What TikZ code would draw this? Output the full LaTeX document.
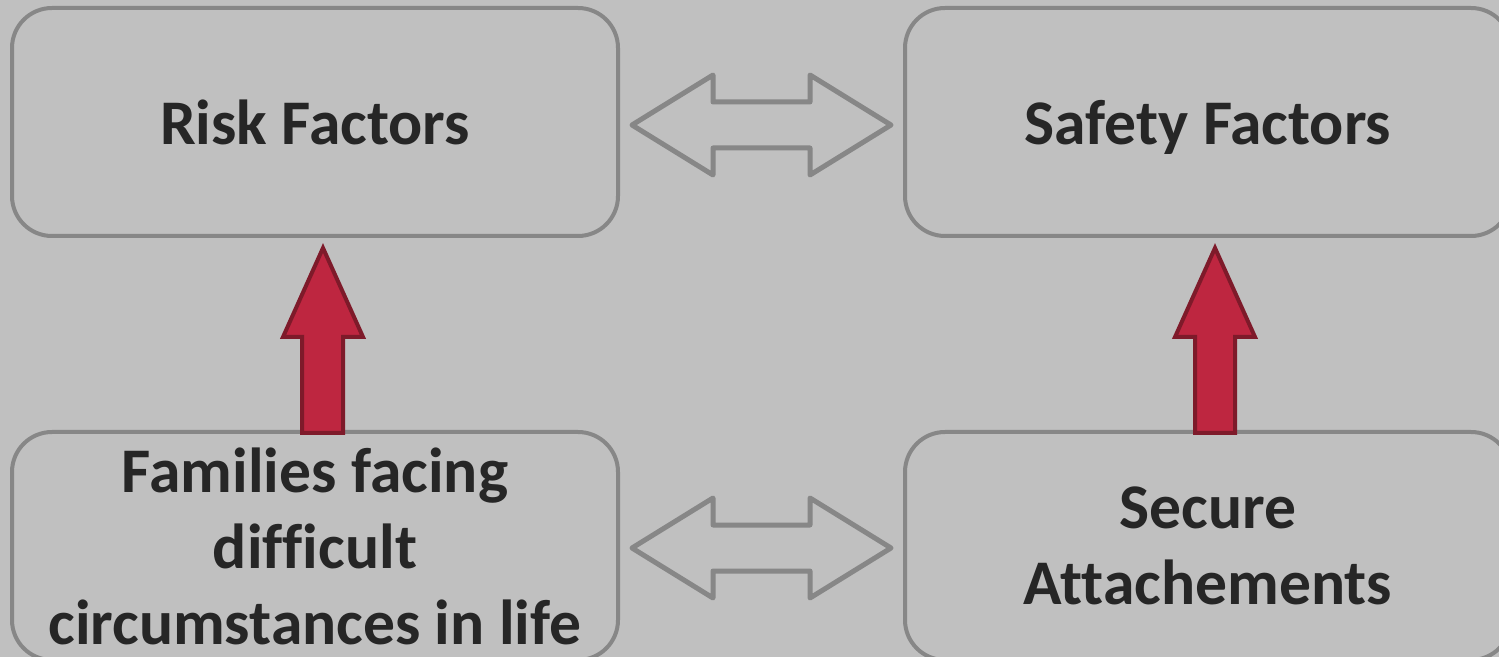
\documentclass[tikz,border=0pt]{standalone}
\usepackage{fontspec}
\setmainfont{Carlito}[Ligatures={NoCommon}]
\definecolor{bg}{HTML}{C0C0C0}
\definecolor{boxline}{HTML}{878787}
\definecolor{txt}{HTML}{262626}
\definecolor{redfill}{HTML}{BE2640}
\definecolor{redline}{HTML}{7E1A2A}
\tikzset{
  factorbox/.style={draw=boxline, line width=2pt, rounded corners=20pt,
    minimum width=303pt, minimum height=114pt, inner sep=0pt, outer sep=0pt,
    align=center, text=txt, font=\bfseries\fontsize{31.8}{38}\selectfont},
  dblarrow/.style={draw=boxline, line width=2.5pt, line join=round},
  redarrow/.style={fill=redfill, draw=redline, line width=2pt, line join=miter}
}
\begin{document}
\begin{tikzpicture}[x=0.5pt, y=-0.5pt]
\fill[bg] (0,0) rectangle (1499,657);
\useasboundingbox (0,0) rectangle (1499,657);
\clip (0,0) rectangle (1499,657);
% boxes
\node[factorbox, text depth=0pt] (risk) at (315,122) {Risk Factors};
\node[factorbox, text depth=0pt] (safety) at (1208,122) {Safety Factors};
\node[factorbox] (families) at (315,546) {Families facing\\difficult\\circumstances in life};
\node[factorbox] (secure) at (1208,546) {Secure\\Attachements};
% double arrows (outline)
\draw[dblarrow] (632,125) -- (713,75) -- (713,102) -- (810,102) -- (810,75) -- (891,125)
  -- (810,175) -- (810,148) -- (713,148) -- (713,175) -- cycle;
\draw[dblarrow] (632,548) -- (713,498) -- (713,525) -- (810,525) -- (810,498) -- (891,548)
  -- (810,598) -- (810,571) -- (713,571) -- (713,598) -- cycle;
% red arrows
\draw[redarrow] (323,248) -- (363,337) -- (343,337) -- (343,433) -- (302,433) -- (302,337) -- (283,337) -- cycle;
\draw[redarrow] (1215,248) -- (1255,337) -- (1235,337) -- (1235,433) -- (1195,433) -- (1195,337) -- (1175,337) -- cycle;
\end{tikzpicture}
\end{document}
